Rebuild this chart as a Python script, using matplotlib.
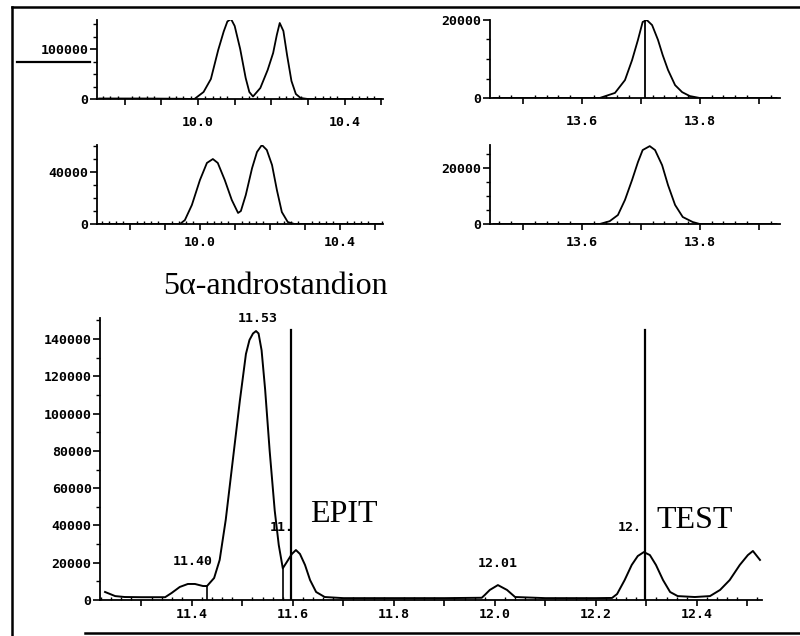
import matplotlib
matplotlib.use("Agg")
import matplotlib.pyplot as plt
from matplotlib.lines import Line2D
from matplotlib.ticker import FixedLocator, FuncFormatter, MultipleLocator

# --- data ---
# top-left trace (10.0 - 10.4 min)
t1 = [9.73, 9.85, 9.95, 9.99, 10.015, 10.035, 10.055, 10.07, 10.08, 10.09, 10.10,
      10.115, 10.13, 10.14, 10.15, 10.17, 10.19, 10.205, 10.215, 10.223, 10.233,
      10.243, 10.255, 10.267, 10.28, 10.30, 10.40, 10.50]
y1 = [1000, 1000, 500, 0, 14000, 40000, 98000, 135000, 155000, 160000, 146000,
      100000, 42000, 14000, 5000, 22000, 58000, 92000, 128000, 152000, 136000,
      88000, 36000, 10000, 2000, 0, 0, 0]

# top-right trace (13.6 - 13.8 min)
t2 = [13.45, 13.55, 13.63, 13.656, 13.673, 13.685, 13.695, 13.703, 13.71, 13.719,
      13.729, 13.737, 13.746, 13.758, 13.77, 13.783, 13.80, 13.93]
y2 = [0, 0, 0, 1300, 4600, 9700, 14900, 19500, 20000, 18700, 14900, 11000, 7200,
      3300, 1500, 500, 0, 0]
mark2 = 13.707

# middle-left trace
t3 = [9.71, 9.85, 9.943, 9.957, 9.977, 10.0, 10.02, 10.037, 10.051, 10.071, 10.091,
      10.109, 10.117, 10.131, 10.149, 10.163, 10.177, 10.191, 10.206, 10.22, 10.234,
      10.251, 10.27, 10.40, 10.52]
y3 = [0, 0, 0, 3000, 14600, 33800, 47000, 50000, 47000, 33800, 18500, 8500, 10000,
      22300, 43000, 55400, 60800, 57000, 45400, 26000, 9200, 1500, 0, 0, 0]

# middle-right trace
t4 = [13.45, 13.55, 13.63, 13.647, 13.661, 13.673, 13.685, 13.695, 13.703, 13.715,
      13.724, 13.736, 13.746, 13.758, 13.771, 13.788, 13.80, 13.93]
y4 = [0, 0, 0, 1000, 3200, 8600, 15700, 22100, 26400, 27800, 26400, 21000, 13900,
      6800, 2500, 700, 0, 0]

# main chromatogram
t5 = [11.228, 11.248, 11.267, 11.30, 11.347, 11.36, 11.376, 11.392, 11.406, 11.422,
      11.43, 11.444, 11.455, 11.467, 11.481, 11.495, 11.507, 11.514, 11.521, 11.527,
      11.532, 11.538, 11.545, 11.554, 11.564, 11.572, 11.58, 11.588, 11.598, 11.606,
      11.614, 11.624, 11.634, 11.646, 11.663, 11.70, 11.80, 11.90, 11.974, 11.98,
      11.99, 12.006, 12.024, 12.04, 12.10, 12.20, 12.232, 12.242, 12.257, 12.271,
      12.283, 12.295, 12.307, 12.319, 12.333, 12.347, 12.362, 12.396, 12.426, 12.446,
      12.465, 12.485, 12.501, 12.511, 12.525]
y5 = [4300, 2100, 1600, 1500, 1500, 3800, 7000, 8600, 8600, 7500,
      7500, 11800, 21500, 43000, 75000, 107000, 132000, 139500, 143000, 144300,
      143000, 134000, 113000, 80000, 48000, 29500, 17000, 20400, 24700, 26800,
      24700, 18800, 10700, 4300, 1600, 1000, 1000, 1000, 1200, 2700,
      5400, 8000, 5400, 1600, 1000, 1000, 1100, 3200, 10700, 18800,
      23600, 25700, 24100, 18800, 10700, 4300, 2100, 1600, 2100, 5400,
      10700, 18800, 24100, 26300, 21500]
drops = [(11.43, 7500), (11.58, 17000)]
marks5 = [11.596, 12.297]
mark_top = 144800
peak_labels = [("11.40", 11.402, 20400), ("11.53", 11.531, 151300),
               ("11.", 11.578, 39000), ("12.01", 12.006, 19800),
               ("12.", 12.267, 39000)]

W, H = 800, 636
fig = plt.figure(figsize=(W / 100, H / 100), dpi=100)
fig.patch.set_facecolor("white")

mono = dict(family="DejaVu Sans Mono", weight="bold", size=9.5)


def make_ax(left, right, top, bottom):
    return fig.add_axes([left / W, 1 - bottom / H, (right - left) / W, (bottom - top) / H])


def style(ax, xlim, ylim, xmaj, xlab, ymaj, ylab, ymin, xpad):
    ax.set_xlim(*xlim)
    ax.set_ylim(*ylim)
    for s in ["top", "right"]:
        ax.spines[s].set_visible(False)
    for s in ["left", "bottom"]:
        ax.spines[s].set_linewidth(1.3)
    ax.xaxis.set_major_locator(FixedLocator(xmaj))
    ax.xaxis.set_major_formatter(FuncFormatter(
        lambda v, p: f"{v:.1f}" if any(abs(v - l) < 1e-6 for l in xlab) else ""))
    ax.xaxis.set_minor_locator(MultipleLocator(0.02))
    ax.yaxis.set_major_locator(FixedLocator(ymaj))
    ax.yaxis.set_major_formatter(FuncFormatter(
        lambda v, p: f"{v:.0f}" if any(abs(v - l) < 1e-6 for l in ylab) else ""))
    ax.yaxis.set_minor_locator(MultipleLocator(ymin))
    ax.tick_params(axis="x", which="major", direction="out", length=4, width=1.2,
                   pad=xpad, labelsize=9.5)
    ax.tick_params(axis="x", which="minor", direction="in", length=2, width=1)
    ax.tick_params(axis="y", which="major", direction="out", length=5, width=1.2,
                   pad=1, labelsize=9.5)
    ax.tick_params(axis="y", which="minor", direction="out", length=3, width=1)
    for lab in ax.get_xticklabels() + ax.get_yticklabels():
        lab.set_fontfamily(mono["family"])
        lab.set_fontweight("bold")
    ax.patch.set_alpha(0)


# top-left
ax1 = make_ax(97, 383, 20, 99)
ax1.plot(t1, y1, color="black", lw=1.3)
style(ax1, (9.724, 10.505), (0, 158000), [9.8, 9.9, 10.0, 10.1, 10.2, 10.3, 10.4, 10.5],
      [10.0, 10.4], [0, 100000], [0, 100000], 25000, 8)

# top-right
ax2 = make_ax(490, 780, 20, 98)
ax2.plot(t2, y2, color="black", lw=1.3)
ax2.plot([mark2, mark2], [0, 20000], color="black", lw=1.3)
style(ax2, (13.444, 13.936), (0, 20000), [13.5, 13.6, 13.7, 13.8, 13.9],
      [13.6, 13.8], [0, 20000], [0, 20000], 5000, 8)

# middle-left
ax3 = make_ax(97, 383, 145, 224)
ax3.plot(t3, y3, color="black", lw=1.3)
style(ax3, (9.706, 10.523), (0, 60800), [9.8, 9.9, 10.0, 10.1, 10.2, 10.3, 10.4, 10.5],
      [10.0, 10.4], [0, 40000], [0, 40000], 10000, 5)

# middle-right
ax4 = make_ax(490, 780, 145, 224)
ax4.plot(t4, y4, color="black", lw=1.3)
style(ax4, (13.444, 13.936), (0, 28200), [13.5, 13.6, 13.7, 13.8, 13.9],
      [13.6, 13.8], [0, 20000], [0, 20000], 5000, 5)

# main chromatogram
ax5 = make_ax(100, 762, 318, 600)
ax5.plot(t5, y5, color="black", lw=1.4)
for x, h in drops:
    ax5.plot([x, x], [0, h], color="black", lw=1.2)
for x in marks5:
    ax5.plot([x, x], [0, mark_top], color="black", lw=1.6)
yt = list(range(0, 140001, 20000))
style(ax5, (11.218, 12.529), (0, 151300),
      [11.3, 11.4, 11.5, 11.6, 11.7, 11.8, 11.9, 12.0, 12.1, 12.2, 12.3, 12.4, 12.5],
      [11.4, 11.6, 11.8, 12.0, 12.2, 12.4], yt, yt, 10000, 1.5)
for txt, x, y in peak_labels:
    ax5.text(x, y, txt, ha="center", va="center", clip_on=False, **mono)

# compound names
serif = dict(family="Liberation Serif", size=23, color="black")
fig.text(275 / W, 1 - 287 / H, "5\u03b1-androstandion", ha="center", va="center", **serif)
fig.text(344 / W, 1 - 515 / H, "EPIT", ha="center", va="center", **serif)
fig.text(695 / W, 1 - 520 / H, "TEST", ha="center", va="center", **serif)

# outer frame and the stray rule under the first y label
def fig_line(xs, ys, lw):
    fig.add_artist(Line2D([x / W for x in xs], [1 - y / H for y in ys],
                          color="black", lw=lw))

fig_line([12, 12], [7, 635], 1.8)
fig_line([12, 800], [7, 7], 1.8)
fig_line([85, 800], [633, 633], 1.8)
fig_line([17, 90], [62, 62], 1.6)

fig.savefig("out.png", dpi=100, facecolor="white")
